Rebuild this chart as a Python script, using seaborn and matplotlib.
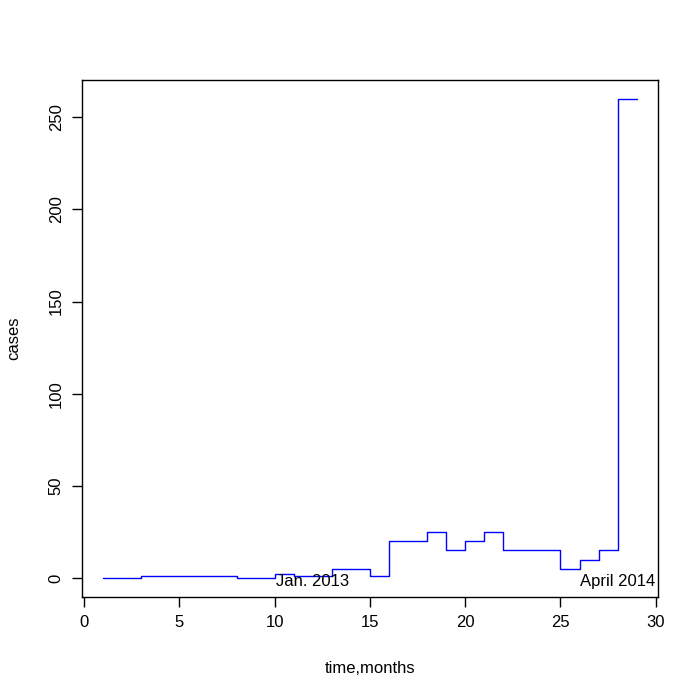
import matplotlib
matplotlib.use("Agg")
import matplotlib.pyplot as plt
import seaborn as sns
import pandas as pd

months = list(range(1, 30))
cases = [0, 0, 1, 1, 1, 1, 1, 0, 0, 2, 1, 1, 5, 5, 1, 20, 20, 25, 15, 20,
         25, 15, 15, 15, 5, 10, 15, 260, 260]
notes = ["Jan. 2013", "April 2014"]
note_x = [12, 28]
note_y = [-2, -2]

df = pd.DataFrame({"time": months, "cases": cases})

sns.set_style("ticks")
plt.rcParams["font.family"] = ["Liberation Sans", "DejaVu Sans"]
plt.rcParams["text.color"] = "black"
plt.rcParams["axes.labelcolor"] = "black"
plt.rcParams["xtick.color"] = "black"
plt.rcParams["ytick.color"] = "black"

fig = plt.figure(figsize=(7, 7), dpi=100)
ax = fig.add_axes([0.117, 0.147, 0.823, 0.739])
sns.lineplot(data=df, x="time", y="cases", drawstyle="steps-post",
             color="blue", linewidth=1, ax=ax)

for t, xx, yy in zip(notes, note_x, note_y):
    ax.text(xx, yy, t, ha="center", va="center", fontsize=12, color="black")

ax.set_xlim(-0.12, 30.12)
ax.set_ylim(-10.4, 270.4)
ax.set_xticks([0, 5, 10, 15, 20, 25, 30])
ax.set_yticks([0, 50, 100, 150, 200, 250])
ax.tick_params(axis="both", direction="out", length=7, width=1, labelsize=12, pad=6)
plt.setp(ax.get_yticklabels(), rotation=90, va="center")
ax.set_xlabel("time,months", fontsize=12, labelpad=22)
ax.set_ylabel("cases", fontsize=12, labelpad=20)
for s in ax.spines.values():
    s.set_visible(True)
    s.set_color("black")
    s.set_linewidth(1)

fig.savefig("out.png", dpi=100)
